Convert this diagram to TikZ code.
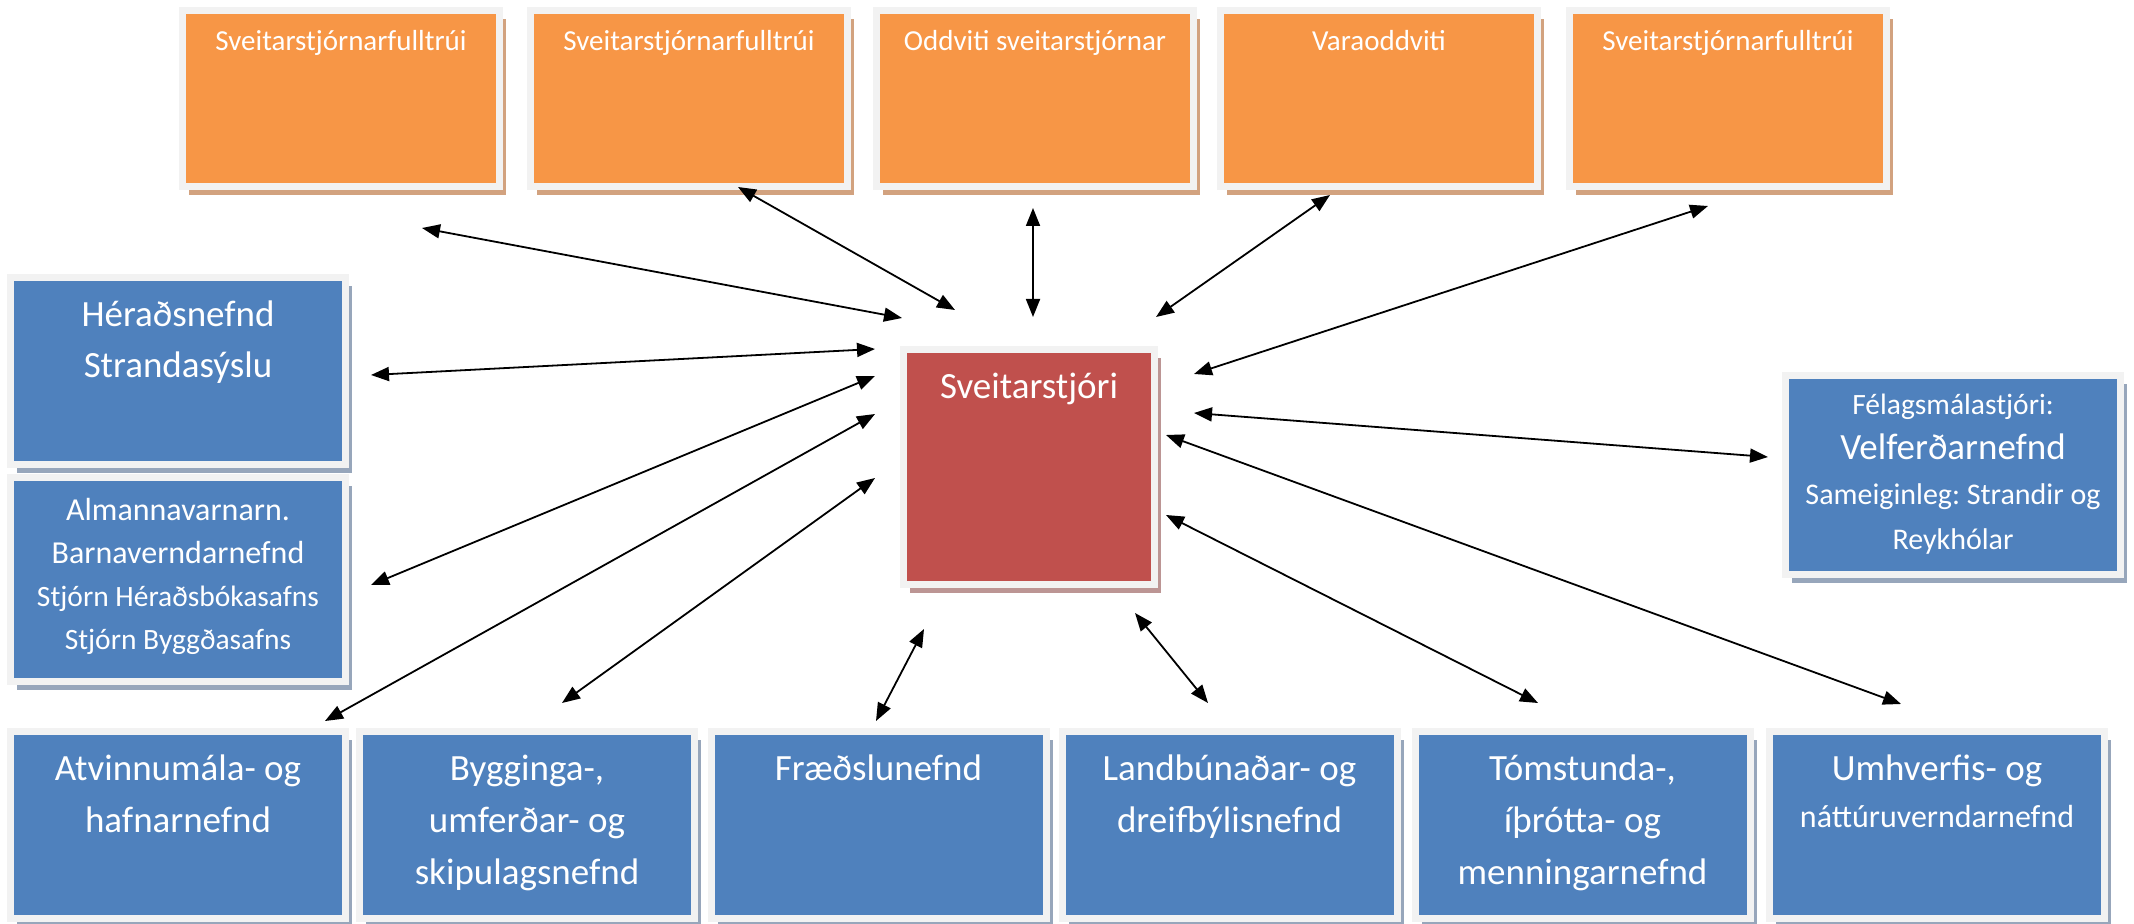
\documentclass[tikz,border=0pt]{standalone}
\usepackage{fontspec}
\setmainfont{Carlito}
\usetikzlibrary{arrows.meta,shadows}
\frenchspacing

\definecolor{orangefill}{HTML}{F79646}
\definecolor{bluefill}{HTML}{4F81BD}
\definecolor{redfill}{HTML}{C0504D}
\definecolor{framegray}{HTML}{F2F2F2}
\definecolor{orangeshade}{HTML}{D2A27F}
\definecolor{blueshade}{HTML}{97A6BB}
\definecolor{redshade}{HTML}{BC9594}

\tikzset{
  box/.style={draw=framegray, line width=3.5pt, text=white, align=flush center,
    inner sep=0pt, outer sep=0pt},
  orangebox/.style={box, fill=orangefill,
    drop shadow={shadow xshift=3.25pt, shadow yshift=-4.25pt, fill=orangeshade, opacity=1}},
  bluebox/.style={box, fill=bluefill,
    drop shadow={shadow xshift=3.25pt, shadow yshift=-4.25pt, fill=blueshade, opacity=1}},
  redbox/.style={box, fill=redfill,
    drop shadow={shadow xshift=3.25pt, shadow yshift=-4.25pt, fill=redshade, opacity=1}}
}

\begin{document}
\begin{tikzpicture}[x=0.5pt, y=-0.5pt, >={Triangle[length=9pt,width=7pt]}]

  \useasboundingbox (0,0) rectangle (2134,924);

  % sveitarstjorn
  \begin{scope}[every node/.style={orangebox, minimum width=158.5pt, text width=150pt,
      text height=20.25pt, text depth=67.75pt, font=\fontsize{14.5}{17}\selectfont}]
    \node (fulltrui1)   at (341,98.5)  {Sveitarstjórnarfulltrúi};
    \node (fulltrui2)   at (689,98.5)  {Sveitarstjórnarfulltrúi};
    \node (oddviti)     at (1035,98.5) {Oddviti sveitarstjórnar};
    \node (varaoddviti) at (1379,98.5) {Varaoddviti};
    \node (fulltrui3)   at (1728,98.5) {Sveitarstjórnarfulltrúi};
  \end{scope}

  \node[redbox, minimum width=125.5pt, text width=120pt, text height=24.75pt,
    text depth=92.75pt, font=\fontsize{18.5}{25.5}\selectfont]
    (sveitarstjori) at (1029,467) {Sveitarstjóri};

  % vinstri og haegri
  \begin{scope}[every node/.style={bluebox, minimum width=167.5pt, text width=160pt}]
    \node[text height=24.75pt, text depth=68.75pt, font=\fontsize{18.5}{25.5}\selectfont]
      (heradsnefnd) at (178,371) {Héraðsnefnd\\Strandasýslu};
    \node[text height=21.25pt, text depth=80.75pt, font=\fontsize{16}{21.5}\selectfont]
      (almannav) at (178,579.5) {Almannavarnarn.\\Barnaverndarnefnd\\
      {\fontsize{14.75}{21.5}\selectfont Stjórn Héraðsbókasafns}\\
      {\fontsize{14.75}{21.5}\selectfont Stjórn Byggðasafns}};
    \node[text height=19.75pt, text depth=79.75pt, font=\fontsize{14.75}{22.5}\selectfont]
      (velferd) at (1953,475) {Félagsmálastjóri:\\
      {\fontsize{18.5}{22.5}\selectfont Velferðarnefnd}\\
      {\fontsize{15}{22.5}\selectfont Sameiginleg: Strandir og}\\
      {\fontsize{15}{22.5}\selectfont Reykhólar}};
  \end{scope}

  % nefndir
  \begin{scope}[every node/.style={bluebox, minimum width=167.5pt, text width=160pt,
      text height=24.25pt, text depth=69.25pt, font=\fontsize{18.5}{26}\selectfont}]
    \node (atvinnu)  at (178,825)    {Atvinnumála- og\\hafnarnefnd};
    \node (bygging)  at (527,825)    {Bygginga-,\\umferðar- og\\skipulagsnefnd};
    \node (fraedsla) at (878.5,825)  {Fræðslunefnd};
    \node (landbun)  at (1229.5,825) {Landbúnaðar- og\\dreifbýlisnefnd};
    \node (tomstund) at (1582.5,825) {Tómstunda-,\\íþrótta- og\\menningarnefnd};
    \node (umhverfi) at (1937,825)   {Umhverfis- og\\[-2.5pt]
      {\fontsize{16}{26}\selectfont náttúruverndarnefnd}};
  \end{scope}

  \coordinate (p1)  at (422,228);  \coordinate (q1)  at (902,318);
  \coordinate (p2)  at (738,187);  \coordinate (q2)  at (955,310);
  \coordinate (p3)  at (1033,208); \coordinate (q3)  at (1033,317);
  \coordinate (p4)  at (1330,195); \coordinate (q4)  at (1156,317);
  \coordinate (p5)  at (1708,206); \coordinate (q5)  at (1194,374);
  \coordinate (p6)  at (371,375);  \coordinate (q6)  at (875,349);
  \coordinate (p7)  at (371,585);  \coordinate (q7)  at (875,376);
  \coordinate (p8)  at (325,721);  \coordinate (q8)  at (875,414);
  \coordinate (p9)  at (562,703);  \coordinate (q9)  at (875,478);
  \coordinate (p10) at (876,721);  \coordinate (q10) at (924,629);
  \coordinate (p11) at (1208,703); \coordinate (q11) at (1135,613);
  \coordinate (p12) at (1538,703); \coordinate (q12) at (1166,515);
  \coordinate (p13) at (1901,704); \coordinate (q13) at (1166,435);
  \coordinate (p14) at (1768,457); \coordinate (q14) at (1194,413);

  \begin{scope}[every edge/.style={draw, line width=0.9pt, <->}]
    \path (p1)  edge (q1);
    \path (p2)  edge (q2);
    \path (p3)  edge (q3);
    \path (p4)  edge (q4);
    \path (p5)  edge (q5);
    \path (p6)  edge (q6);
    \path (p7)  edge (q7);
    \path (p8)  edge (q8);
    \path (p9)  edge (q9);
    \path (p10) edge (q10);
    \path (p11) edge (q11);
    \path (p12) edge (q12);
    \path (p13) edge (q13);
    \path (p14) edge (q14);
  \end{scope}

\end{tikzpicture}
\end{document}
